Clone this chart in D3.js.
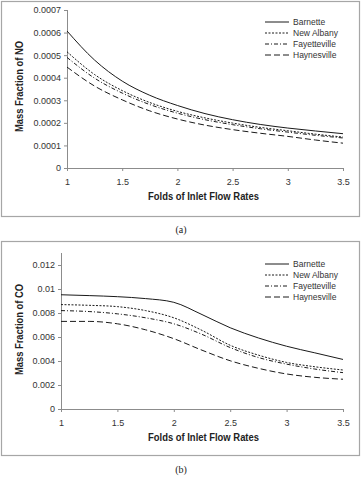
<!DOCTYPE html>
<html>
<head>
<meta charset="utf-8">
<script src="https://cdn.jsdelivr.net/npm/d3@7"></script>
<style>
  body { margin: 0; background: #fff; }
  svg { display: block; }
</style>
</head>
<body>
<svg id="fig" width="362" height="480"></svg>
<script>
// x values: folds of inlet flow rates
var foldsNO = [1, 1.25, 1.5, 1.75, 2, 2.25, 2.5, 2.75, 3, 3.25, 3.5];
var foldsCO = [1, 1.25, 1.5, 1.75, 2, 2.25, 2.5, 2.75, 3, 3.25, 3.5];

var seriesNames = ['Barnette', 'New Albany', 'Fayetteville', 'Haynesville'];

// (a) mass fraction of NO
var noBarnette     = [0.000607, 0.000478, 0.000385, 0.000322, 0.000277, 0.000241, 0.000214, 0.000193, 0.000177, 0.000164, 0.000152];
var noNewAlbany    = [0.000515, 0.000414, 0.000343, 0.000290, 0.000251, 0.000222, 0.000199, 0.000180, 0.000165, 0.000150, 0.000137];
var noFayetteville = [0.000490, 0.000398, 0.000332, 0.000281, 0.000243, 0.000214, 0.000192, 0.000174, 0.000159, 0.000145, 0.000133];
var noHaynesville  = [0.000447, 0.000363, 0.000302, 0.000253, 0.000217, 0.000190, 0.000170, 0.000154, 0.000140, 0.000124, 0.000110];

// (b) mass fraction of CO
var coBarnette     = [0.00952, 0.00945, 0.00936, 0.00920, 0.00889, 0.00787, 0.00677, 0.00592, 0.00523, 0.00468, 0.00413];
var coNewAlbany    = [0.00870, 0.00864, 0.00853, 0.00820, 0.00760, 0.00655, 0.00531, 0.00449, 0.00388, 0.00352, 0.00325];
var coFayetteville = [0.00820, 0.00812, 0.00793, 0.00760, 0.00710, 0.00622, 0.00512, 0.00429, 0.00374, 0.00333, 0.00303];
var coHaynesville  = [0.00730, 0.00730, 0.00710, 0.00660, 0.00586, 0.00490, 0.00402, 0.00339, 0.00292, 0.00264, 0.00248];

var xTicks = [1, 1.5, 2, 2.5, 3, 3.5];
var noTicks = [0, 0.0001, 0.0002, 0.0003, 0.0004, 0.0005, 0.0006, 0.0007];
var coTicks = [0, 0.002, 0.004, 0.006, 0.008, 0.01, 0.012];

var dashes = [null, '2,1.5', '4,2,1,2', '6,3'];
var fontMain = '"Liberation Sans", Arial, sans-serif';

var svg = d3.select('#fig');

function drawPanel(opt) {
  var g = svg.append('g');

  // frame round the chart
  g.append('rect')
    .attr('x', opt.box[0] + 0.5).attr('y', opt.box[1] + 0.5)
    .attr('width', opt.box[2]).attr('height', opt.box[3])
    .attr('fill', '#fff').attr('stroke', '#a6a6a6').attr('stroke-width', 1.2);

  var x = d3.scaleLinear().domain([1, 3.5]).range([opt.left, opt.right]);
  var y = d3.scaleLinear().domain([0, opt.ymax]).range([opt.bottom, opt.top]);

  var xAxis = g.append('g')
    .attr('transform', 'translate(0,' + opt.bottom + ')')
    .call(d3.axisBottom(x).tickValues(xTicks).tickSize(3).tickSizeOuter(0)
      .tickFormat(d3.format('')));
  var yAxis = g.append('g')
    .attr('transform', 'translate(' + opt.left + ',0)')
    .call(d3.axisLeft(y).tickValues(opt.ticks).tickSize(3).tickSizeOuter(0)
      .tickFormat(function(d) { return d === 0 ? '0' : String(+d.toPrecision(3)); }));

  // axis line up to the top of the range even without a tick there
  yAxis.select('.domain').attr('d', 'M0.5,' + (opt.bottom + 0.5) + 'V' + y(opt.ymax));

  [xAxis, yAxis].forEach(function(a) {
    a.selectAll('.domain, line').attr('stroke', '#8c8c8c');
    a.selectAll('text').attr('fill', '#333').style('font-family', fontMain).style('font-size', '9px');
  });
  xAxis.selectAll('text').attr('dy', '1.2em');
  yAxis.selectAll('text').attr('x', -6);

  var line = d3.line()
    .x(function(d) { return x(d[0]); })
    .y(function(d) { return y(d[1]); })
    .curve(d3.curveMonotoneX);

  opt.series.forEach(function(vals, i) {
    g.append('path')
      .datum(opt.xs.map(function(v, j) { return [v, vals[j]]; }))
      .attr('d', line)
      .attr('fill', 'none')
      .attr('stroke', '#1a1a1a')
      .attr('stroke-width', 1)
      .attr('stroke-dasharray', dashes[i]);
  });

  // legend
  seriesNames.forEach(function(name, i) {
    var ly = opt.legendY + i * 11;
    g.append('line')
      .attr('x1', 265).attr('x2', 289).attr('y1', ly).attr('y2', ly)
      .attr('stroke', '#1a1a1a').attr('stroke-width', 1)
      .attr('stroke-dasharray', dashes[i]);
    g.append('text')
      .attr('x', 293).attr('y', ly + 3)
      .attr('fill', '#333')
      .style('font-family', fontMain).style('font-size', '8.5px')
      .text(name);
  });

  // axis titles (narrow bold face, squeezed to the width seen)
  g.append('text')
    .attr('x', 148).attr('y', opt.bottom + 32)
    .attr('textLength', 111).attr('lengthAdjust', 'spacingAndGlyphs')
    .attr('fill', '#222')
    .style('font-family', fontMain).style('font-size', '10.5px').style('font-weight', 'bold')
    .text('Folds of Inlet Flow Rates');
  g.append('text')
    .attr('transform', 'translate(' + 23 + ',' + (opt.titleY + 45) + ') rotate(-90)')
    .attr('textLength', 91).attr('lengthAdjust', 'spacingAndGlyphs')
    .attr('fill', '#222')
    .style('font-family', fontMain).style('font-size', '10.5px').style('font-weight', 'bold')
    .text(opt.ylabel);

  // caption under the frame
  svg.append('text')
    .attr('x', 181).attr('y', opt.capY)
    .attr('text-anchor', 'middle').attr('fill', '#222')
    .style('font-family', '"Liberation Serif", "DejaVu Serif", serif').style('font-size', '10px')
    .text(opt.caption);
}

drawPanel({
  box: [1, 1, 358, 215],
  left: 67, right: 343, top: 10, bottom: 168,
  ymax: 0.0007, ticks: noTicks, xs: foldsNO,
  series: [noBarnette, noNewAlbany, noFayetteville, noHaynesville],
  legendY: 22, titleY: 87, ylabel: 'Mass Fraction of NO',
  caption: '(a)', capY: 233
});

drawPanel({
  box: [1, 241, 358, 214],
  left: 61, right: 343, top: 253, bottom: 409,
  ymax: 0.013, ticks: coTicks, xs: foldsCO,
  series: [coBarnette, coNewAlbany, coFayetteville, coHaynesville],
  legendY: 264, titleY: 330, ylabel: 'Mass Fraction of CO',
  caption: '(b)', capY: 473
});
</script>
</body>
</html>
